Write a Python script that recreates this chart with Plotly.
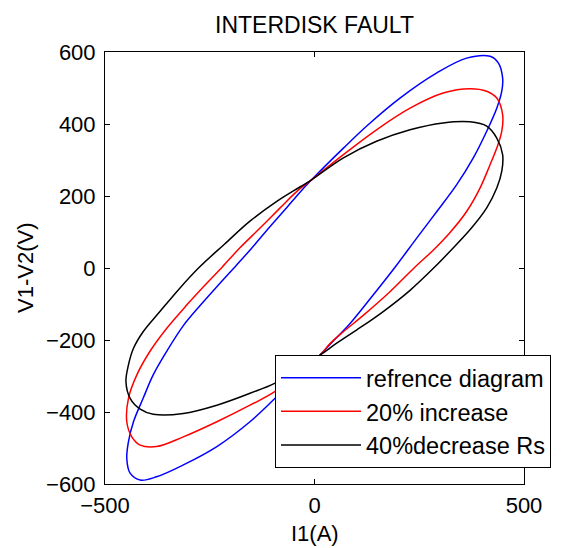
import plotly.graph_objects as go

# Values (I1 in A, V1-V2 in V)
ref_x = [419, 439, 449, 447, 435, 411, 379, 339, 292, 244, 194, 140, 85, 42, 12,
         -94, -154, -233, -313, -377, -416, -440, -448, -444, -432, -409, -385, -353,
         -313, -272, -230, -190, -150, -106, -66, -35, -7, 69, 128, 204, 292, 363, 419]
ref_y = [588, 569, 528, 491, 444, 380, 306, 231, 157, 83, 5, -75, -154, -206, -243,
         -362, -427, -496, -547, -580, -589, -570, -529, -482, -427, -362, -297, -232,
         -160, -103, -48, 3, 55, 115, 168, 210, 245, 333, 398, 472, 542, 583, 588]

inc_x = [371, 411, 435, 449, 447, 435, 419, 395, 363, 323, 282, 240, 180, 117, 69, 37, 12,
         -94, -154, -233, -313, -377, -416, -436, -448, -444, -424, -393, -353, -305, -260,
         -220, -178, -130, -82, -42, -7, 69, 148, 228, 307, 371]
inc_y = [498, 491, 472, 426, 380, 333, 287, 222, 157, 98, 48, 3, -66, -131, -177, -210, -243,
         -343, -381, -427, -469, -496, -492, -469, -427, -362, -297, -232, -168, -103, -46,
         3, 56, 111, 167, 213, 245, 315, 384, 444, 486, 498]

dec_x = [371, 411, 435, 449, 447, 435, 411, 371, 323, 288, 228, 164, 101, 53, 12,
         -94, -154, -233, -313, -385, -416, -440, -450, -444, -432, -409, -369, -323, -275,
         -215, -154, -90, -35, -7, 69, 148, 228, 307, 371]
dec_y = [406, 394, 361, 315, 269, 222, 167, 106, 46, 4, -62, -121, -172, -209, -243,
         -320, -348, -381, -404, -406, -392, -362, -316, -269, -223, -177, -121, -58, 2,
         66, 130, 185, 225, 245, 306, 352, 384, 403, 406]

names = ["refrence diagram", "20% increase", "40%decrease Rs"]
colors = ["#0000FF", "#FF0000", "#000000"]

FONT = "Liberation Sans, Arial, sans-serif"

fig = go.Figure()
for xs, ys, nm, col in zip([ref_x, inc_x, dec_x], [ref_y, inc_y, dec_y], names, colors):
    fig.add_trace(go.Scatter(x=xs, y=ys, mode="lines", name=nm,
                             line=dict(color=col, width=1.5, shape="spline", smoothing=1.0)))

axis_common = dict(showgrid=False, zeroline=False, showline=True, linecolor="black",
                   linewidth=1, mirror="allticks", ticks="inside", ticklen=5,
                   tickcolor="black", tickfont=dict(family=FONT, size=22, color="black"))

fig.update_xaxes(range=[-500, 500], tickvals=[-500, 0, 500], ticklabelstandoff=2, **axis_common)
fig.update_yaxes(range=[-600, 600], tickvals=[-600, -400, -200, 0, 200, 400, 600],
                 ticklabelstandoff=4, **axis_common)

W, H = 555, 540
fig.update_layout(
    width=W, height=H,
    margin=dict(l=97, r=39, t=44, b=64),
    paper_bgcolor="white", plot_bgcolor="white",
    font=dict(family=FONT, color="black"),
    title=dict(text="INTERDISK FAULT", x=0.5, xref="paper", xanchor="center",
               y=1 - 17 / H, yref="container", yanchor="middle",
               font=dict(family=FONT, size=23, color="black")),
    legend=dict(x=0.4057, y=0.2986, xanchor="left", yanchor="top",
                bgcolor="white", bordercolor="black", borderwidth=1,
                font=dict(family=FONT, size=23.5, color="black"), itemwidth=80),
    annotations=[
        dict(text="I1(A)", x=0.5, y=-0.1157, xref="paper", yref="paper",
             xanchor="center", yanchor="middle", showarrow=False,
             font=dict(family=FONT, size=22, color="black")),
        dict(text="V1-V2(V)", x=-0.1909, y=0.5, xref="paper", yref="paper",
             xanchor="center", yanchor="middle", showarrow=False, textangle=-90,
             font=dict(family=FONT, size=22, color="black")),
    ],
)

fig.write_html("out.html")
